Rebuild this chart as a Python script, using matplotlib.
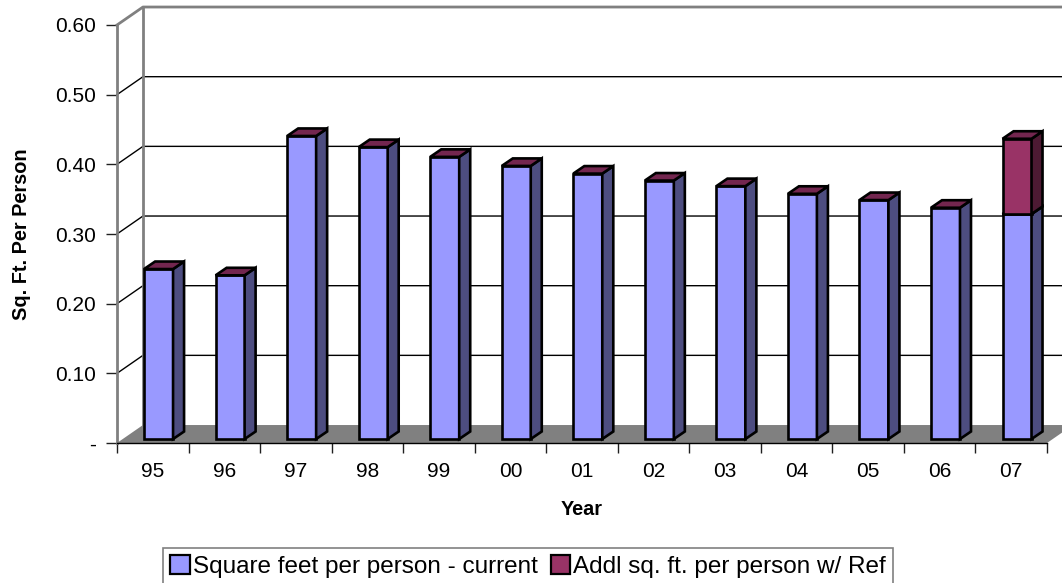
import numpy as np
import matplotlib
matplotlib.use('Agg')
import matplotlib.pyplot as plt
from matplotlib.patches import Polygon, Patch

plt.rcParams['font.family'] = ['Liberation Sans', 'DejaVu Sans']

years = ['95', '96', '97', '98', '99', '00', '01', '02', '03', '04', '05', '06', '07']
current = [0.244, 0.235, 0.435, 0.419, 0.405, 0.392, 0.381, 0.371, 0.363, 0.352, 0.343, 0.332, 0.323]
additional = [0, 0, 0, 0, 0, 0, 0, 0, 0, 0, 0, 0, 0.108]
yticks = [0.0, 0.1, 0.2, 0.3, 0.4, 0.5, 0.6]
ytick_labels = ['-', '0.10', '0.20', '0.30', '0.40', '0.50', '0.60']

# colours of the three visible faces per series
BLUE = ('#9999ff', '#4d4d80', '#73264f')
MAROON = ('#993366', '#4d1a33', '#73264f')
WALL = '#808080'

# 3-d look, in data units
DX, DY = 0.363, 0.0258        # full depth of the box
BX, BY = 0.154, 0.0108        # depth of one bar
SHIFT_X, BASE = 0.081, 0.0057 # bar front plane sits a little behind the axis
WIDTH = 0.405


def draw_block(ax, x0, y0, h, colors):
    front, side, top = colors
    y1 = y0 + h
    kw = dict(edgecolor='black', linewidth=1.9, joinstyle='miter', clip_on=False, zorder=5)
    ax.add_patch(Polygon([(x0, y0), (x0 + WIDTH, y0), (x0 + WIDTH, y1), (x0, y1)],
                         facecolor=front, **kw))
    ax.add_patch(Polygon([(x0 + WIDTH, y0), (x0 + WIDTH + BX, y0 + BY),
                          (x0 + WIDTH + BX, y1 + BY), (x0 + WIDTH, y1)],
                         facecolor=side, **kw))
    ax.add_patch(Polygon([(x0, y1), (x0 + WIDTH, y1), (x0 + WIDTH + BX, y1 + BY),
                          (x0 + BX, y1 + BY)], facecolor=top, **kw))


fig = plt.figure(figsize=(10.62, 5.83), dpi=100)
ax = fig.add_axes([117 / 1062, 140 / 583, 930 / 1062, 418 / 583])
n = len(years)
ax.set_xlim(-0.5, n - 0.5)
ax.set_ylim(0, 0.6)

left = -0.5
right = n - 0.5
far_right = right + 2

# side wall and back wall gridlines
for v in yticks[1:-1]:
    ax.plot([left, left + DX, far_right], [v, v + DY, v + DY],
            color='black', lw=1, clip_on=False, zorder=1)
# wall outlines
ax.plot([left, left + DX, far_right], [0.6, 0.6 + DY, 0.6 + DY],
        color=WALL, lw=2, clip_on=False, zorder=2)
ax.plot([left + DX, left + DX], [DY, 0.6 + DY], color=WALL, lw=2, clip_on=False, zorder=2)

# floor
ax.add_patch(Polygon([(left, 0), (right, 0), (right + DX, DY), (left + DX, DY)],
                     facecolor=WALL, edgecolor='none', clip_on=False, zorder=3))

for i in range(n):
    x0 = i + SHIFT_X - WIDTH / 2
    draw_block(ax, x0, BASE, current[i], BLUE)
    if additional[i] > 0:
        draw_block(ax, x0, BASE + current[i], additional[i], MAROON)

for s in ['top', 'right']:
    ax.spines[s].set_visible(False)
ax.spines['left'].set_color(WALL)
ax.spines['left'].set_linewidth(2)
ax.spines['bottom'].set_color('black')
ax.spines['bottom'].set_linewidth(1)
ax.spines['bottom'].set_zorder(4)

ax.set_yticks(yticks)
ax.set_yticklabels(ytick_labels, fontsize=15)
ax.tick_params(axis='y', length=8, width=1, color='#202020', pad=7)

ax.set_xticks(np.arange(-0.5, n, 1))
ax.set_xticklabels([])
ax.set_xticks(np.arange(n), minor=True)
ax.set_xticklabels(years, minor=True, fontsize=15)
ax.tick_params(axis='x', which='major', length=7, width=1, color='#202020')
ax.tick_params(axis='x', which='minor', length=0, pad=14)

ax.set_xlabel('Year', fontsize=14.3, fontweight='bold')
ax.xaxis.set_label_coords(0.5, -0.137)
ax.set_ylabel('Sq. Ft. Per Person', fontsize=14.3, fontweight='bold')
ax.yaxis.set_label_coords(-0.092, 0.5)

handles = [Patch(facecolor=BLUE[0], edgecolor='black', linewidth=1.6),
           Patch(facecolor=MAROON[0], edgecolor='black', linewidth=1.6)]
leg = fig.legend(handles, ['Square feet per person - current', 'Addl sq. ft. per person w/ Ref'],
                 loc='upper left', bbox_to_anchor=(163 / 1062, 1 - 548 / 583), ncol=2,
                 fontsize=17.5, frameon=True, fancybox=False, borderpad=0.3,
                 handlelength=0.8, handleheight=0.8, handletextpad=0.12,
                 columnspacing=0.55, borderaxespad=0)
leg.get_frame().set_edgecolor('#606060')
leg.get_frame().set_linewidth(1.2)

fig.savefig('out.png', dpi=100)
